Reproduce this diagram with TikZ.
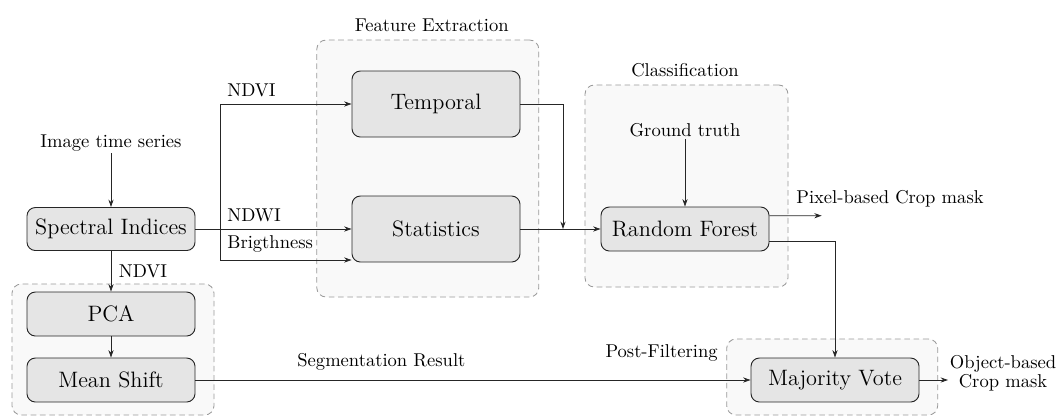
\documentclass[tikz,border=0pt]{standalone}
\usetikzlibrary{arrows.meta}
\begin{document}
\def\u{0.5385pt}
\begin{tikzpicture}[x=0.5385pt,y=-0.5385pt,
  box/.style={draw=black!85, fill=gray!20, rounded corners=4.5pt, line width=0.5pt,
    minimum width=168*\u, font=\large, inner sep=0pt},
  group/.style={draw=gray!80, dash pattern=on 3pt off 2pt, fill=gray!5,
    rounded corners=5pt, line width=0.45pt, inner sep=0pt},
  arr/.style={-{Stealth[length=4pt,width=2.8pt]}, line width=0.45pt, draw=black!85},
  lbl/.style={font=\normalsize, inner sep=0pt}]
\useasboundingbox (0,0) rectangle (1059,416);
% groups
\node[group, minimum width=202*\u, minimum height=131*\u] (gseg) at (113,349.5) {};
\node[group, minimum width=222*\u, minimum height=257*\u] (gfe) at (427.8,168.5) {};
\node[group, minimum width=203*\u, minimum height=202*\u] (gcl) at (686.5,186) {};
\node[group, minimum width=211*\u, minimum height=76*\u] (gpf) at (832.2,377) {};
% group titles
\node[lbl] (tfe) at (431.7,25.7) {Feature Extraction};
\node[lbl] (tcl) at (685,70) {Classification};
\node[lbl, anchor=east] (tpf) at (718,353) {Post-Filtering};
% boxes
\node[box, minimum height=43*\u] (si) at (111,229) {Spectral Indices};
\node[box, minimum height=44*\u] (pca) at (111,314) {PCA};
\node[box, minimum height=44*\u] (ms) at (111,380) {Mean Shift};
\node[box, minimum height=66*\u] (tp) at (436,104) {Temporal};
\node[box, minimum height=66*\u] (st) at (436,229) {Statistics};
\node[box, minimum height=44*\u] (rf) at (685,229) {Random Forest};
\node[box, minimum height=44*\u] (mv) at (835,380) {Majority Vote};
% texts
\node[lbl] (its) at (111,143) {Image time series};
\node[lbl] (gt) at (685,130) {Ground truth};
\node[lbl, anchor=west] (lndvi) at (227,90) {NDVI};
\node[lbl, anchor=west] (lndwi) at (227,215) {NDWI};
\node[lbl, anchor=west] (lbr) at (227,244) {Brigthness};
\node[lbl, anchor=west] (lpix) at (796,199) {Pixel-based Crop mask};
\node[lbl, align=center] (lobj) at (1003,373) {Object-based\\[-2pt]Crop mask};
% coordinates
\coordinate (split) at (220.7,229);
\coordinate (join) at (563,229);
\coordinate (pbout) at (821.7,215.7);
\coordinate (obout) at (948,380);
% connectors
\draw[arr] ([yshift=-1pt]its.south) -- (si.north);
\draw[arr] (si.south) -- node[lbl, right=4pt]{NDVI} (pca.north);
\draw[arr] (pca.south) -- (ms.north);
\draw[arr] (ms.east) -- node[lbl, pos=0.335, above=5pt]{Segmentation Result} (mv.west);
\draw[arr] (si.east) -- (st.west);
\draw[arr] (split) |- (tp.west);
\draw[arr] (split) |- ([yshift=-31*\u]st.west);
\draw[arr] (tp.east) -| (join);
\draw[arr] (st.east) -- (rf.west);
\draw[arr] ([yshift=-1pt]gt.south) -- (rf.north);
\draw[arr] ([yshift=13.3*\u]rf.east) -- (pbout);
\draw[arr] ([yshift=-12*\u]rf.east) -| (mv.north);
\draw[arr] (mv.east) -- (obout);
\end{tikzpicture}
\end{document}
